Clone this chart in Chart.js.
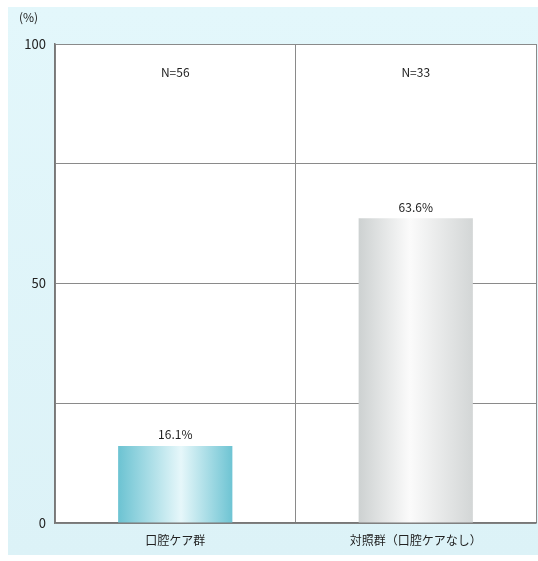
<!DOCTYPE html>
<html>
<head>
<meta charset="utf-8">
<script src="https://cdn.jsdelivr.net/npm/chart.js@4.4.1/dist/chart.umd.min.js"></script>
<style>
  html, body { margin:0; padding:0; background:#fff; }
  #wrap { width:538px; height:561px; position:relative; }
</style>
</head>
<body>
<div id="wrap"><canvas id="c" width="538" height="561"></canvas></div>
<script>
var CATEGORIES = ['口腔ケア群', '対照群（口腔ケアなし）'];
var VALUES = [16.1, 63.6];
var N_LABELS = ['N=56', 'N=33'];
var Y_TICKS = [0, 50, 100];

var FONT = '"Noto Sans CJK JP", "Noto Sans", sans-serif';
var BAR_FRACTION = 0.475;

/* bar fills: left edge / light centre / right edge */
var BAR_STOPS = [
  [[0,'#6cc3d2'],[0.55,'#e6f7fa'],[1,'#6ec4d3']],
  [[0,'#cdd1d1'],[0.45,'#fbfbfb'],[1,'#d3d6d6']]
];

function barFill(c) {
  var chart = c.chart, a = chart.chartArea;
  if (!a || !chart.scales.x) return '#ccc';
  var cx = chart.scales.x.getPixelForValue(c.dataIndex);
  var half = (a.right - a.left) / CATEGORIES.length * BAR_FRACTION / 2;
  var g = chart.ctx.createLinearGradient(cx - half, 0, cx + half, 0);
  BAR_STOPS[c.dataIndex].forEach(function(s){ g.addColorStop(s[0], s[1]); });
  return g;
}

var decor = {
  id:'decor',
  beforeDraw:function(chart) {
    var ctx = chart.ctx;
    ctx.save();
    ctx.fillStyle = '#fff';
    ctx.fillRect(0,0,chart.width,chart.height);
    var g = ctx.createLinearGradient(0,7,0,555);
    g.addColorStop(0,'#e3f7fb');
    g.addColorStop(1,'#dcf2f7');
    ctx.fillStyle = g;
    ctx.fillRect(8,7,chart.width-8,548);
    var a = chart.chartArea;
    ctx.fillStyle = '#fff';
    ctx.fillRect(a.left,a.top,a.right-a.left,a.bottom-a.top);
    ctx.restore();
  },
  afterDatasetsDraw:function(chart) {
    var ctx = chart.ctx, a = chart.chartArea, xs = chart.scales.x;
    ctx.save();
    ctx.fillStyle = '#222';
    ctx.font = '12px ' + FONT;
    ctx.textAlign = 'center';
    ctx.textBaseline = 'middle';
    N_LABELS.forEach(function(t,i) {
      ctx.fillText(t, xs.getPixelForValue(i), a.top + 28);
    });
    chart.getDatasetMeta(0).data.forEach(function(bar,i) {
      ctx.fillText(VALUES[i].toFixed(1) + '%', bar.x, bar.y - 11);
    });
    ctx.textAlign = 'left';
    ctx.fillText('(%)', 19, 17);
    ctx.restore();
  }
};

new Chart(document.getElementById('c'), {
  type:'bar',
  data:{
    labels: CATEGORIES,
    datasets:[{
      data: VALUES,
      backgroundColor: barFill,
      borderWidth:0,
      categoryPercentage: BAR_FRACTION,
      barPercentage:1
    }]
  },
  options:{
    responsive:false,
    animation:false,
    events:[],
    layout:{padding:{top:44,right:2,left:0,bottom:0}},
    plugins:{legend:{display:false},tooltip:{enabled:false}},
    scales:{
      x:{
        grid:{color:'#8a8a8a',lineWidth:1,drawTicks:false,offset:true},
        border:{color:'#777',width:1.5},
        ticks:{color:'#222',font:{family:FONT,size:12},padding:10},
        afterFit:function(s){ s.height = 38; }
      },
      y:{
        min:0, max:100,
        grid:{color:'#8a8a8a',lineWidth:1,drawTicks:false},
        border:{color:'#777',width:1.5},
        ticks:{
          stepSize:25, color:'#222', padding:9,
          font:{family:FONT,size:13},
          callback:function(v){ return Y_TICKS.indexOf(v) >= 0 ? v : ''; }
        },
        afterFit:function(s){ s.width = 55; }
      }
    }
  },
  plugins:[decor]
});
</script>
</body>
</html>
